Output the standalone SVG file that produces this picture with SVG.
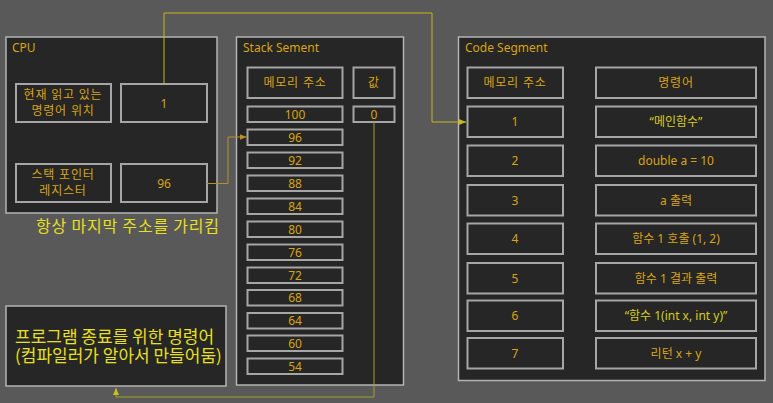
<svg xmlns="http://www.w3.org/2000/svg" width="773" height="403" viewBox="0 0 773 403">
<defs>
<style>
.panel{fill:#262626;stroke:#b4b4b4;stroke-width:1.5}
.box{fill:#262626;stroke:#a6a6a6;stroke-width:2}
.t{font-family:"Noto Sans","Noto Sans CJK KR",sans-serif;font-size:12px;fill:#d9a415;text-anchor:middle}
.k{letter-spacing:0.8px}
.lbl{font-family:"Noto Sans","Noto Sans CJK KR",sans-serif;font-size:12px;fill:#d9a415}
.y{fill:#d8cc1a}
.big{font-family:"Noto Sans CJK KR","Noto Sans",sans-serif;font-size:16px;fill:#e8e020}
.c1{fill:none;stroke:#c8b81a;stroke-width:1}
.c2{fill:none;stroke:#b8902a;stroke-width:1}
.c3{fill:none;stroke:#a8a020;stroke-width:1}
</style>
<marker id="a1" markerWidth="8" markerHeight="8" refX="7" refY="4" orient="auto" markerUnits="userSpaceOnUse"><path d="M0,1 L7,4 L0,7 z" fill="#c8b81a"/></marker>
<marker id="a2" markerWidth="8" markerHeight="8" refX="7" refY="4" orient="auto" markerUnits="userSpaceOnUse"><path d="M0,1 L7,4 L0,7 z" fill="#b8902a"/></marker>
<marker id="a3" markerWidth="8" markerHeight="8" refX="7" refY="4" orient="auto" markerUnits="userSpaceOnUse"><path d="M0,1 L7,4 L0,7 z" fill="#c8c020"/></marker>
</defs>
<rect width="773" height="403" fill="#595959"/>

<g id="cpu">
<rect class="panel" x="6" y="37" width="211" height="176"/>
<text class="lbl" x="12" y="52">CPU</text>
</g>
<g id="cpu-pc-label">
<rect class="box" x="16" y="84" width="95" height="38"/>
<text class="t k"><tspan x="63" y="99">현재 읽고 있는</tspan><tspan x="63" y="115">명령어 위치</tspan></text>
</g>
<g id="cpu-pc">
<rect class="box" x="121" y="84" width="86" height="38"/>
<text class="t" x="164" y="107.5">1</text>
</g>
<g id="cpu-sp-label">
<rect class="box" x="16" y="164" width="95" height="38"/>
<text class="t k"><tspan x="63" y="179">스택 포인터</tspan><tspan x="63" y="195">레지스터</tspan></text>
</g>
<g id="cpu-sp">
<rect class="box" x="121" y="164" width="86" height="38"/>
<text class="t" x="164" y="187.5">96</text>
</g>
<g id="note">
<text class="big" x="36" y="232" style="letter-spacing:0.8px">항상 마지막 주소를 가리킴</text>
</g>

<g id="exit">
<rect class="panel" x="6" y="306" width="220" height="80"/>
<text class="big" style="font-size:17px"><tspan x="15" y="343">프로그램 종료를 위한 명령어</tspan><tspan x="15" y="362">(컴파일러가 알아서 만들어둠)</tspan></text>
</g>

<g id="stack">
<rect class="panel" x="236.5" y="37" width="167" height="348"/>
<text class="lbl" x="243" y="52">Stack Sement</text>
<rect class="box" x="247.5" y="67.5" width="95" height="30.5"/>
<text class="t k" x="295" y="87">메모리 주소</text>
<rect class="box" x="353.5" y="67.5" width="41" height="30.5"/>
<text class="t k" x="374" y="87">값</text>
<rect class="box" x="353.5" y="106.5" width="41" height="15.5"/>
<text class="t" x="374" y="118.5">0</text>
<g id="s100"><rect class="box" x="247.5" y="106.5" width="95" height="15.5"/><text class="t" x="295" y="118.5">100</text></g>
<g id="s96"><rect class="box" x="247.5" y="129.5" width="95" height="15.5"/><text class="t" x="295" y="141.5">96</text></g>
<g id="s92"><rect class="box" x="247.5" y="152.5" width="95" height="15.5"/><text class="t" x="295" y="164.5">92</text></g>
<g id="s88"><rect class="box" x="247.5" y="175.5" width="95" height="15.5"/><text class="t" x="295" y="187.5">88</text></g>
<g id="s84"><rect class="box" x="247.5" y="198.5" width="95" height="15.5"/><text class="t" x="295" y="210.5">84</text></g>
<g id="s80"><rect class="box" x="247.5" y="221.5" width="95" height="15.5"/><text class="t" x="295" y="233.5">80</text></g>
<g id="s76"><rect class="box" x="247.5" y="244.5" width="95" height="15.5"/><text class="t" x="295" y="256.5">76</text></g>
<g id="s72"><rect class="box" x="247.5" y="267.5" width="95" height="15.5"/><text class="t" x="295" y="279.5">72</text></g>
<g id="s68"><rect class="box" x="247.5" y="290" width="95" height="15.5"/><text class="t" x="295" y="302">68</text></g>
<g id="s64"><rect class="box" x="247.5" y="313" width="95" height="15.5"/><text class="t" x="295" y="325">64</text></g>
<g id="s60"><rect class="box" x="247.5" y="335.5" width="95" height="15.5"/><text class="t" x="295" y="347.5">60</text></g>
<g id="s54"><rect class="box" x="247.5" y="358.5" width="95" height="15.5"/><text class="t" x="295" y="370.5">54</text></g>
</g>

<g id="code">
<rect class="panel" x="458.5" y="37" width="306.5" height="343.5"/>
<text class="lbl" x="465" y="52">Code Segment</text>
<rect class="box" x="467.5" y="67.5" width="95.5" height="30.5"/>
<text class="t k" x="515" y="87">메모리 주소</text>
<rect class="box" x="596" y="67.5" width="160" height="30.5"/>
<text class="t k" x="676" y="87">명령어</text>
<g id="c1"><rect class="box" x="467.5" y="106.5" width="95.5" height="30.5"/><text class="t" x="515" y="126">1</text>
<rect class="box" x="596" y="106.5" width="160" height="30.5"/><text class="t y" x="676" y="126">“메인함수”</text></g>
<g id="c2"><rect class="box" x="467.5" y="145.5" width="95.5" height="30.5"/><text class="t" x="515" y="165">2</text>
<rect class="box" x="596" y="145.5" width="160" height="30.5"/><text class="t" x="676" y="165">double a = 10</text></g>
<g id="c3"><rect class="box" x="467.5" y="185" width="95.5" height="30.5"/><text class="t" x="515" y="204.5">3</text>
<rect class="box" x="596" y="185" width="160" height="30.5"/><text class="t" x="676" y="204.5">a 출력</text></g>
<g id="c4"><rect class="box" x="467.5" y="223.5" width="95.5" height="30.5"/><text class="t" x="515" y="243">4</text>
<rect class="box" x="596" y="223.5" width="160" height="30.5"/><text class="t" x="676" y="243">함수 1 호출 (1, 2)</text></g>
<g id="c5"><rect class="box" x="467.5" y="263" width="95.5" height="30.5"/><text class="t" x="515" y="282.5">5</text>
<rect class="box" x="596" y="263" width="160" height="30.5"/><text class="t" x="676" y="282.5">함수 1 결과 출력</text></g>
<g id="c6"><rect class="box" x="467.5" y="300.5" width="95.5" height="30.5"/><text class="t" x="515" y="320">6</text>
<rect class="box" x="596" y="300.5" width="160" height="30.5"/><text class="t y" x="676" y="320">“함수 1(int x, int y)”</text></g>
<g id="c7"><rect class="box" x="467.5" y="338" width="95.5" height="30.5"/><text class="t" x="515" y="357.5">7</text>
<rect class="box" x="596" y="338" width="160" height="30.5"/><text class="t" x="676" y="357.5">리턴 x + y</text></g>
</g>

<g id="connectors">
<path class="c1" d="M164,84 V13 H432 V122 H466" marker-end="url(#a1)"/>
<path class="c2" d="M207,183.5 H228 V137 H246.5" marker-end="url(#a2)"/>
<path class="c3" d="M374,122 V397 H116 V388" marker-end="url(#a3)"/>
</g>
</svg>
